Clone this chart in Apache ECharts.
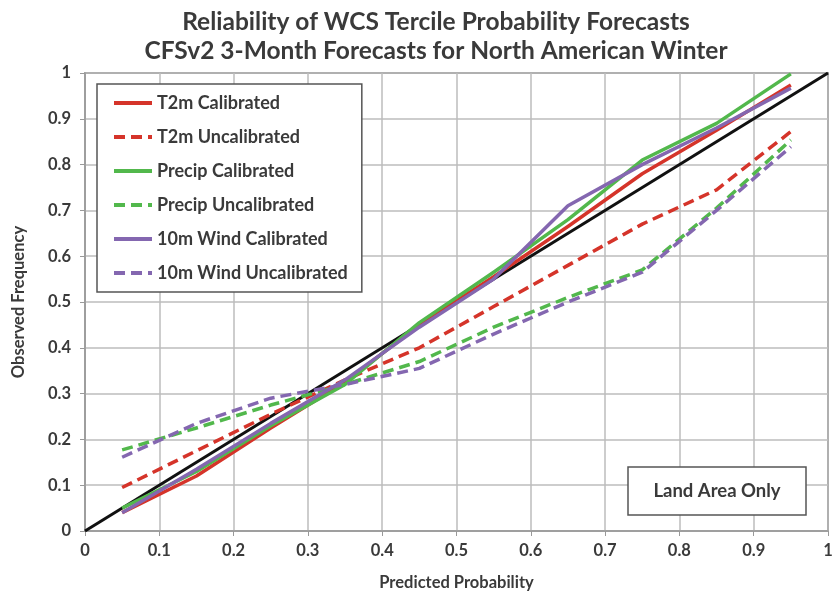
<!DOCTYPE html>
<html>
<head>
<meta charset="utf-8">
<script src="https://cdn.jsdelivr.net/npm/echarts@6/dist/echarts.min.js"></script>
<style>
  html, body { margin: 0; padding: 0; background: #fff; }
  #chart { width: 837px; height: 595px; }
</style>
</head>
<body>
<div id="chart"></div>
<script>
// bin centres (predicted probability)
const bins = [0.05, 0.15, 0.25, 0.35, 0.45, 0.55, 0.65, 0.75, 0.85, 0.95]

// observed frequency per bin
const t2mCal = [0.04, 0.12, 0.225, 0.325, 0.45, 0.555, 0.665, 0.78, 0.875, 0.974]
const t2mUncal = [0.095, 0.175, 0.255, 0.33, 0.40, 0.49, 0.58, 0.67, 0.745, 0.872]
const precipCal = [0.05, 0.13, 0.23, 0.32, 0.455, 0.565, 0.68, 0.81, 0.89, 0.998]
const precipUncal = [0.177, 0.225, 0.275, 0.32, 0.37, 0.445, 0.51, 0.57, 0.705, 0.854]
const windCal = [0.04, 0.135, 0.235, 0.33, 0.445, 0.55, 0.71, 0.80, 0.88, 0.967]
const windUncal = [0.161, 0.235, 0.29, 0.32, 0.355, 0.43, 0.50, 0.565, 0.70, 0.839]

// perfect reliability diagonal
const diagonal = [[0, 0], [1, 1]]

const red = '#d5342a'
const green = '#52b84c'
const purple = '#8467b0'

const pairs = vals => bins.map((b, i) => [b, vals[i]])

function mkSeries(name, vals, color, dashed) {
  return {
    name: name,
    type: 'line',
    data: pairs(vals),
    symbol: 'none',
    lineStyle: {
      color: color,
      width: 3.5,
      type: dashed ? [11, 6] : 'solid',
      join: 'round'
    },
    itemStyle: { color: color }
  }
}

const font = (size) => ({
  fontFamily: 'Lato',
  fontWeight: 'bold',
  fontSize: size,
  color: '#3a3a3a'
})

let chart = echarts.init(document.getElementById('chart'))
chart.setOption({
  animation: false,
  title: {
    text: 'Reliability of WCS Tercile Probability Forecasts\nCFSv2 3-Month Forecasts for North American Winter',
    left: 431,
    textAlign: 'center',
    top: 3,
    textStyle: Object.assign({ lineHeight: 29 }, font(24.5))
  },
  grid: {
    left: 85,
    right: 9,
    top: 73,
    bottom: 64,
    outerBoundsMode: 'none',
    show: true,
    borderColor: '#666',
    borderWidth: 1.5
  },
  legend: {
    orient: 'vertical',
    left: 97,
    top: 84,
    padding: [8, 14, 8, 15],
    backgroundColor: '#fff',
    borderColor: '#555',
    borderWidth: 1.5,
    itemWidth: 38,
    itemHeight: 14,
    itemGap: 12,
    itemStyle: { opacity: 0 },
    lineStyle: { width: 4 },
    textStyle: Object.assign({ lineHeight: 22 }, font(18)),
    data: ['T2m Calibrated', 'T2m Uncalibrated', 'Precip Calibrated', 'Precip Uncalibrated', '10m Wind Calibrated', '10m Wind Uncalibrated']
  },
  xAxis: {
    type: 'value',
    min: 0,
    max: 1,
    interval: 0.1,
    name: 'Predicted Probability',
    nameLocation: 'middle',
    nameGap: 43,
    nameTextStyle: font(16.5),
    axisLine: { onZero: false, lineStyle: { color: '#999', width: 1.5 } },
    axisTick: { show: true, inside: false, length: 5, lineStyle: { color: '#999' } },
    axisLabel: Object.assign({ margin: 11, formatter: v => String(+v.toFixed(1)) }, font(16.5)),
    splitLine: { show: true, lineStyle: { color: '#bdbdbd', width: 1.5 } }
  },
  yAxis: {
    type: 'value',
    min: 0,
    max: 1,
    interval: 0.1,
    name: 'Observed Frequency',
    nameLocation: 'middle',
    nameGap: 58,
    nameTextStyle: font(16.5),
    axisLine: { show: true, onZero: false, lineStyle: { color: '#999', width: 1.5 } },
    axisTick: { show: true, inside: false, length: 5, lineStyle: { color: '#999' } },
    axisLabel: Object.assign({ margin: 14, formatter: v => String(+v.toFixed(1)) }, font(16.5)),
    splitLine: { show: true, lineStyle: { color: '#bdbdbd', width: 1.5 } }
  },
  graphic: [
    {
      type: 'rect',
      x: 628,
      y: 467,
      shape: { width: 178, height: 48 },
      style: { fill: '#fff', stroke: '#555', lineWidth: 1.5 },
      z: 100
    },
    {
      type: 'text',
      x: 717,
      y: 491,
      style: {
        text: 'Land Area Only',
        align: 'center',
        verticalAlign: 'middle',
        fontFamily: 'Lato',
        fontWeight: 'bold',
        fontSize: 18.5,
        fill: '#3a3a3a'
      },
      z: 101
    }
  ],
  series: [
    {
      name: 'Perfect',
      type: 'line',
      data: diagonal,
      symbol: 'none',
      silent: true,
      lineStyle: { color: '#111', width: 3 },
      z: 1
    },
    mkSeries('T2m Calibrated', t2mCal, red, false),
    mkSeries('T2m Uncalibrated', t2mUncal, red, true),
    mkSeries('Precip Calibrated', precipCal, green, false),
    mkSeries('Precip Uncalibrated', precipUncal, green, true),
    mkSeries('10m Wind Calibrated', windCal, purple, false),
    mkSeries('10m Wind Uncalibrated', windUncal, purple, true)
  ]
})

window.addEventListener('resize', () => {
  chart.resize()
})
</script>
</body>
</html>
